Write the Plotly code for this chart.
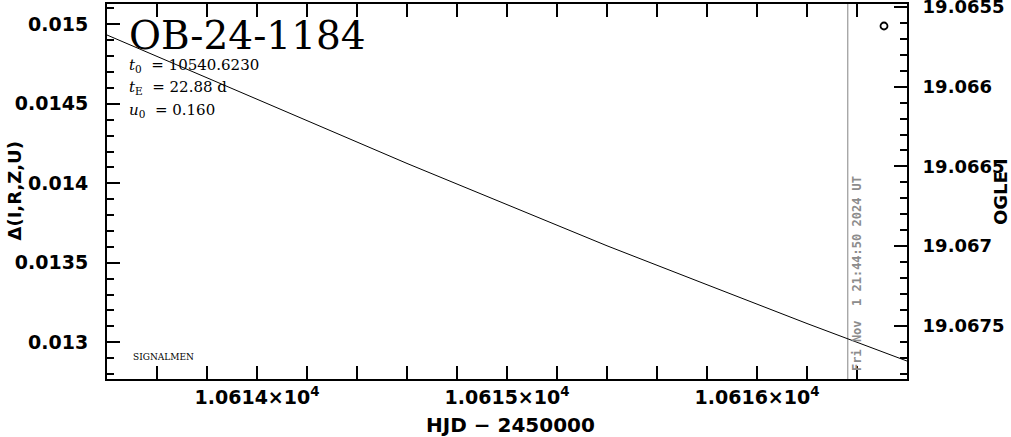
import plotly.graph_objects as go

# ---- data ----
model_hjd = [10613.4, 10613.8, 10614.2, 10614.6, 10615.0, 10615.4, 10615.8, 10616.2, 10616.6]
model_delta = [0.014933, 0.014663, 0.014398, 0.014125, 0.013866, 0.013607, 0.013362, 0.013118, 0.012882]

ogle_hjd = [10616.508]
ogle_mag = [19.065619]

now_hjd = 10616.363
now_label = "Fri Nov\u00a0 1 21:44:50 2024 UT"

event_name = "OB-24-1184"
param_lines = ["<i>t</i><sub>0</sub> \u00a0= 10540.6230",
               "<i>t</i><sub>E</sub> \u00a0= 22.88 d",
               "<i>u</i><sub>0</sub> \u00a0= 0.160"]

x_tick_vals = [10614, 10615, 10616]
x_tick_text = ["1.0614×10<sup>4</sup>", "1.0615×10<sup>4</sup>", "1.0616×10<sup>4</sup>"]
y_tick_vals = [0.013, 0.0135, 0.014, 0.0145, 0.015]
y_tick_text = ["0.013", "0.0135", "0.014", "0.0145", "0.015"]
y2_tick_vals = [19.0655, 19.066, 19.0665, 19.067, 19.0675]
y2_tick_text = ["19.0655", "19.066", "19.0665", "19.067", "19.0675"]

x_range = [10613.4, 10616.6]
y_range = [0.012769, 0.015128]
y2_range = [19.067834, 19.065481]

fig = go.Figure()
fig.add_trace(go.Scatter(x=model_hjd, y=model_delta, mode="lines",
                         line=dict(color="black", width=1), yaxis="y",
                         showlegend=False, hoverinfo="skip"))
fig.add_trace(go.Scatter(x=ogle_hjd, y=ogle_mag, mode="markers",
                         marker=dict(symbol="circle-open", size=7, color="black",
                                     line=dict(color="black", width=1.8)),
                         yaxis="y2", showlegend=False))

fig.add_shape(type="line", xref="x", yref="paper", x0=now_hjd, x1=now_hjd,
              y0=0, y1=1, line=dict(color="#999999", width=1.2), layer="below")

axis_common = dict(showgrid=False, zeroline=False, showline=True, linecolor="black",
                   linewidth=2, ticks="inside", ticklen=13, tickwidth=2,
                   tickcolor="black", ticklabeloverflow="allow")

fig.update_layout(
    width=1011, height=437,
    margin=dict(l=107, r=104, t=4, b=58, autoexpand=False),
    paper_bgcolor="white", plot_bgcolor="white",
    xaxis=dict(range=x_range, tickmode="array", tickvals=x_tick_vals,
               ticktext=x_tick_text, mirror="allticks", ticklabelstandoff=0,
               tickfont=dict(family="DejaVu Sans", size=19, color="black", weight="bold"),
               minor=dict(ticks="inside", ticklen=7, tickwidth=2, tickcolor="black",
                          tick0=10613.4, dtick=0.2),
               **axis_common),
    yaxis=dict(range=y_range, tickmode="array", tickvals=y_tick_vals,
               ticktext=y_tick_text, ticklabelstandoff=13,
               tickfont=dict(family="DejaVu Sans", size=19, color="black", weight="bold"),
               minor=dict(ticks="inside", ticklen=7, tickwidth=2, tickcolor="black",
                          tick0=0.013, dtick=0.0001),
               **axis_common),
    yaxis2=dict(range=y2_range, overlaying="y", side="right", tickmode="array",
                tickvals=y2_tick_vals, ticktext=y2_tick_text, ticklabelstandoff=10,
                tickfont=dict(family="DejaVu Sans", size=18, color="black", weight="bold"),
                minor=dict(ticks="inside", ticklen=7, tickwidth=2, tickcolor="black",
                           tick0=19.0655, dtick=0.0001),
                **axis_common),
)

ann = []
ann.append(dict(text=event_name, x=0.025, y=0.9173, xref="paper", yref="paper",
                xanchor="left", yanchor="middle", showarrow=False,
                font=dict(family="DejaVu Serif", size=39, color="black")))
for i, t in enumerate(param_lines):
    ann.append(dict(text=t, x=0.025, y=[0.8373, 0.776, 0.7173][i], xref="paper",
                    yref="paper", xanchor="left", yanchor="middle", showarrow=False,
                    font=dict(family="DejaVu Serif", size=15, color="black")))
ann.append(dict(text="SIGNALMEN", x=0.03, y=0.0587, xref="paper", yref="paper",
                xanchor="left", yanchor="middle", showarrow=False,
                font=dict(family="DejaVu Serif", size=9, color="black")))
ann.append(dict(text=now_label, x=0.9375, y=0.28, xref="paper", yref="paper",
                xanchor="center", yanchor="middle", showarrow=False, textangle=-90,
                font=dict(family="DejaVu Sans Mono", size=12, color="#8c8c8c",
                          weight="bold")))
ann.append(dict(text="Δ(I,R,Z,U)", x=-0.11625, y=0.5, xref="paper", yref="paper",
                xanchor="center", yanchor="middle", showarrow=False, textangle=-90,
                font=dict(family="DejaVu Sans", size=18, color="black", weight="bold")))
ann.append(dict(text="OGLE I", x=1.1169, y=0.5, xref="paper", yref="paper",
                xanchor="center", yanchor="middle", showarrow=False, textangle=-90,
                font=dict(family="DejaVu Sans", size=18, color="black", weight="bold")))
ann.append(dict(text="HJD − 2450000", x=0.50375, y=-0.1227, xref="paper", yref="paper",
                xanchor="center", yanchor="middle", showarrow=False,
                font=dict(family="DejaVu Sans", size=20, color="black", weight="bold")))
fig.update_layout(annotations=ann)

fig.write_html("out.html", config={"displayModeBar": False},
               post_script="document.body.style.margin='0';")
